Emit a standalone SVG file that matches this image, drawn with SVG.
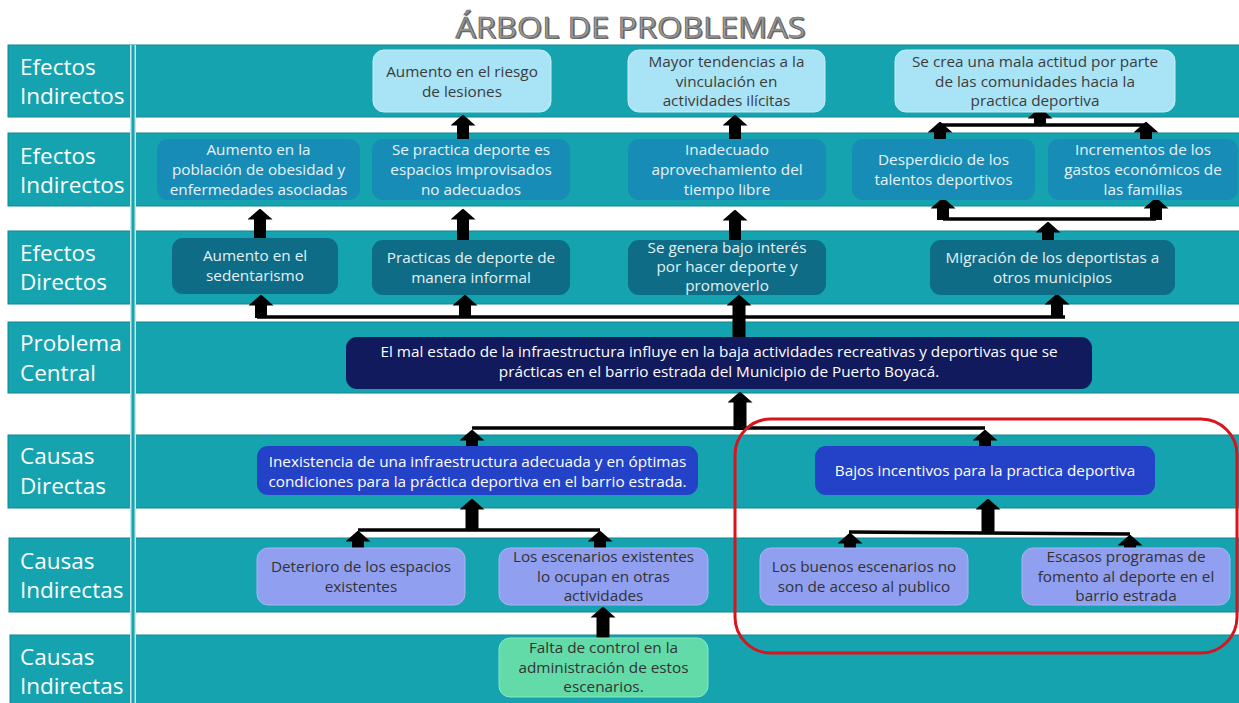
<svg xmlns="http://www.w3.org/2000/svg" width="1239" height="703" viewBox="0 0 1239 703">
<style>
.band{fill:#14a3af;stroke:#0e8893;stroke-width:1}
.lbl{font-family:"Open Sans","Liberation Sans",sans-serif;font-size:22.5px;fill:#ffffff;font-weight:400}
.t{font-family:"Open Sans","Liberation Sans",sans-serif;font-size:15.3px;text-anchor:middle}
.r1 rect{fill:#a8e3f6;stroke:#c9eefa;stroke-width:1}
.r1 text{fill:#3c3c3c}
.r2 rect{fill:#178cb6}
.r2 text{fill:#e6f4f9}
.r3 rect{fill:#0f6c86}
.r3 text{fill:#e2f1f5}
.r4 rect{fill:#111a5c}
.r4 text{fill:#ffffff}
.r5 rect{fill:#2442c8}
.r5 text{fill:#ffffff}
.r6 rect{fill:#909ff0;stroke:#a9b4f4;stroke-width:1}
.r6 text{fill:#333333}
.r7 rect{fill:#62dba8;stroke:#8be6c0;stroke-width:1}
.r7 text{fill:#333333}
.sh{stroke:#000;stroke-width:12;fill:none;marker-end:url(#ah)}
.shb{stroke:#000;stroke-width:13;fill:none;marker-end:url(#ah)}
.hl{stroke:#000;stroke-width:3.5;fill:none}
.ttl{font-family:"Open Sans","Liberation Sans",sans-serif;font-size:29px;text-anchor:middle}
</style>
<defs>
<marker id="ah" viewBox="0 0 11 25" refX="0.5" refY="12.5" markerWidth="11" markerHeight="25" markerUnits="userSpaceOnUse" orient="auto">
<path d="M0,0 L11,12.5 L0,25 Z" fill="#000"/>
</marker>
</defs>
<rect x="0" y="0" width="1239" height="703" fill="#ffffff"/>
<g id="title">
<text class="ttl" x="631.8" y="38.8" fill="#6e6e6e" textLength="350" lengthAdjust="spacingAndGlyphs">ÁRBOL DE PROBLEMAS</text>
<text class="ttl" x="630.5" y="37.5" fill="#9c9c9c" stroke="#5e5e5e" stroke-width="0.7" textLength="350" lengthAdjust="spacingAndGlyphs">ÁRBOL DE PROBLEMAS</text>
</g>
<g id="bands">
<rect class="band" x="8" y="45" width="1232" height="72"/>
<rect class="band" x="8" y="133" width="1232" height="73"/>
<rect class="band" x="8" y="231" width="1232" height="73"/>
<rect class="band" x="8" y="322" width="1232" height="71"/>
<rect class="band" x="8" y="435" width="1232" height="73"/>
<rect class="band" x="9" y="538" width="1231" height="74"/>
<rect class="band" x="10" y="635" width="1230" height="69"/>
<rect x="130" y="45" width="6" height="658" fill="#bfe9ec"/>
<rect x="131.5" y="45" width="3" height="658" fill="#1aa2ad"/>
</g>
<g id="labels">
<text class="lbl" x="20" y="75">Efectos</text><text class="lbl" x="20" y="104">Indirectos</text>
<text class="lbl" x="20" y="164">Efectos</text><text class="lbl" x="20" y="193">Indirectos</text>
<text class="lbl" x="20" y="261">Efectos</text><text class="lbl" x="20" y="290">Directos</text>
<text class="lbl" x="20" y="351">Problema</text><text class="lbl" x="20" y="381">Central</text>
<text class="lbl" x="20" y="464">Causas</text><text class="lbl" x="20" y="494">Directas</text>
<text class="lbl" x="20" y="569">Causas</text><text class="lbl" x="20" y="598">Indirectas</text>
<text class="lbl" x="20" y="665">Causas</text><text class="lbl" x="20" y="694">Indirectas</text>
</g>
<g id="connectors">
<line class="sh" x1="463" y1="139" x2="463" y2="125"/>
<line class="sh" x1="735" y1="139" x2="735" y2="125"/>
<line class="hl" x1="940" y1="125" x2="1146" y2="125"/>
<line class="sh" x1="940" y1="141" x2="940" y2="132"/>
<line class="sh" x1="1146" y1="141" x2="1146" y2="132"/>
<line class="sh" x1="1040" y1="126" x2="1040" y2="118"/>
<line class="sh" x1="260" y1="238" x2="260" y2="219"/>
<line class="sh" x1="463" y1="240" x2="463" y2="219"/>
<line class="sh" x1="735" y1="240" x2="735" y2="220"/>
<line class="hl" x1="943" y1="219" x2="1156" y2="219"/>
<line class="sh" x1="943" y1="220" x2="943" y2="208"/>
<line class="sh" x1="1156" y1="220" x2="1156" y2="208"/>
<line class="sh" x1="1048" y1="240" x2="1048" y2="232"/>
<line class="hl" x1="257" y1="317" x2="1065" y2="317"/>
<line class="sh" x1="261" y1="318" x2="261" y2="305"/>
<line class="sh" x1="465" y1="318" x2="465" y2="305"/>
<line class="shb" x1="739" y1="337" x2="739" y2="305"/>
<line class="sh" x1="1057" y1="318" x2="1057" y2="304"/>
<line class="shb" x1="740" y1="430" x2="740" y2="402"/>
<line class="hl" x1="472" y1="428" x2="985" y2="428"/>
<line class="sh" x1="472" y1="446" x2="472" y2="440"/>
<line class="sh" x1="985" y1="446" x2="985" y2="440"/>
<line class="shb" x1="472" y1="531" x2="472" y2="509"/>
<line class="hl" x1="358" y1="530" x2="600" y2="530"/>
<line class="sh" x1="358" y1="548" x2="358" y2="541"/>
<line class="sh" x1="600" y1="548" x2="600" y2="541"/>
<line class="shb" x1="988" y1="534" x2="988" y2="509"/>
<line class="hl" x1="849" y1="532" x2="1130" y2="534"/>
<line class="sh" x1="850" y1="548" x2="850" y2="543"/>
<line class="sh" x1="1130" y1="548" x2="1130" y2="545"/>
<line class="shb" x1="603" y1="638" x2="603" y2="617"/>
</g>
<g id="n-riesgo" class="r1"><rect x="373" y="50" width="178" height="62" rx="11"/><text class="t" x="462" y="77">Aumento en el riesgo</text><text class="t" x="462" y="97">de lesiones</text></g>
<g id="n-vinculacion" class="r1"><rect x="628" y="50" width="197" height="62" rx="11"/><text class="t" x="726.5" y="67">Mayor tendencias a la</text><text class="t" x="726.5" y="86.5">vinculación en</text><text class="t" x="726.5" y="106">actividades ilícitas</text></g>
<g id="n-actitud" class="r1"><rect x="895" y="50" width="280" height="62" rx="11"/><text class="t" x="1035" y="67">Se crea una mala actitud por parte</text><text class="t" x="1035" y="86.5">de las comunidades  hacia la</text><text class="t" x="1035" y="106">practica deportiva</text></g>
<g id="n-obesidad" class="r2"><rect x="157" y="139" width="203" height="61" rx="11"/><text class="t" x="258.5" y="154.5">Aumento en la</text><text class="t" x="258.5" y="174.5">población de obesidad y</text><text class="t" x="258.5" y="194.5">enfermedades asociadas</text></g>
<g id="n-improvisados" class="r2"><rect x="372" y="139" width="198" height="61" rx="11"/><text class="t" x="471" y="154.5">Se practica deporte es</text><text class="t" x="471" y="174.5">espacios improvisados</text><text class="t" x="471" y="194.5">no adecuados</text></g>
<g id="n-tiempo" class="r2"><rect x="628" y="139" width="198" height="61" rx="11"/><text class="t" x="727" y="154.5">Inadecuado</text><text class="t" x="727" y="174.5">aprovechamiento del</text><text class="t" x="727" y="194.5">tiempo libre</text></g>
<g id="n-talentos" class="r2"><rect x="852" y="139" width="183" height="61" rx="11"/><text class="t" x="943.5" y="165">Desperdicio de los</text><text class="t" x="943.5" y="185">talentos deportivos</text></g>
<g id="n-gastos" class="r2"><rect x="1048" y="139" width="190" height="61" rx="11"/><text class="t" x="1143" y="154.5">Incrementos de los</text><text class="t" x="1143" y="174.5">gastos económicos de</text><text class="t" x="1143" y="194.5">las familias</text></g>
<g id="n-sedentarismo" class="r3"><rect x="172" y="238" width="166" height="56" rx="11"/><text class="t" x="255" y="261">Aumento en el</text><text class="t" x="255" y="281">sedentarismo</text></g>
<g id="n-informal" class="r3"><rect x="372" y="240" width="198" height="55" rx="11"/><text class="t" x="471" y="263">Practicas de deporte de</text><text class="t" x="471" y="283">manera informal</text></g>
<g id="n-interes" class="r3"><rect x="628" y="240" width="198" height="55" rx="11"/><text class="t" x="727" y="253">Se genera bajo interés</text><text class="t" x="727" y="272">por hacer deporte y</text><text class="t" x="727" y="291">promoverlo</text></g>
<g id="n-migracion" class="r3"><rect x="930" y="240" width="245" height="55" rx="11"/><text class="t" x="1052.5" y="263">Migración de los deportistas a</text><text class="t" x="1052.5" y="283">otros municipios</text></g>
<g id="n-central" class="r4"><rect x="346" y="337" width="746" height="52" rx="11"/><text class="t" x="719" y="357">El mal estado de la infraestructura influye en la baja actividades recreativas y deportivas que se</text><text class="t" x="719" y="377">prácticas en el barrio estrada del Municipio de Puerto Boyacá.</text></g>
<g id="n-infraestructura" class="r5"><rect x="257" y="446" width="441" height="49" rx="11"/><text class="t" x="477.5" y="467">Inexistencia de una infraestructura adecuada y en óptimas</text><text class="t" x="477.5" y="487">condiciones para la práctica deportiva en el barrio estrada.</text></g>
<g id="n-incentivos" class="r5"><rect x="815" y="446" width="340" height="49" rx="11"/><text class="t" x="985" y="476">Bajos incentivos para la practica deportiva</text></g>
<g id="n-deterioro" class="r6"><rect x="257" y="548" width="208" height="57" rx="11"/><text class="t" x="361" y="572">Deterioro de los espacios</text><text class="t" x="361" y="592">existentes</text></g>
<g id="n-ocupan" class="r6"><rect x="499" y="548" width="209" height="57" rx="11"/><text class="t" x="603.5" y="562">Los escenarios existentes</text><text class="t" x="603.5" y="581.5">lo ocupan en otras</text><text class="t" x="603.5" y="601">actividades</text></g>
<g id="n-acceso" class="r6"><rect x="760" y="548" width="208" height="57" rx="11"/><text class="t" x="864" y="572">Los buenos escenarios no</text><text class="t" x="864" y="592">son de acceso al publico</text></g>
<g id="n-programas" class="r6"><rect x="1022" y="548" width="208" height="57" rx="11"/><text class="t" x="1126" y="562">Escasos programas de</text><text class="t" x="1126" y="581.5">fomento al deporte en el</text><text class="t" x="1126" y="601">barrio estrada</text></g>
<g id="n-control" class="r7"><rect x="499" y="638" width="209" height="59" rx="11"/><text class="t" x="603.5" y="653">Falta de control en la</text><text class="t" x="603.5" y="672.5">administración de estos</text><text class="t" x="603.5" y="692">escenarios.</text></g>
<g id="highlight"><rect x="735" y="419" width="502" height="234" rx="36" fill="none" stroke="#d8141c" stroke-width="3"/></g>
</svg>
